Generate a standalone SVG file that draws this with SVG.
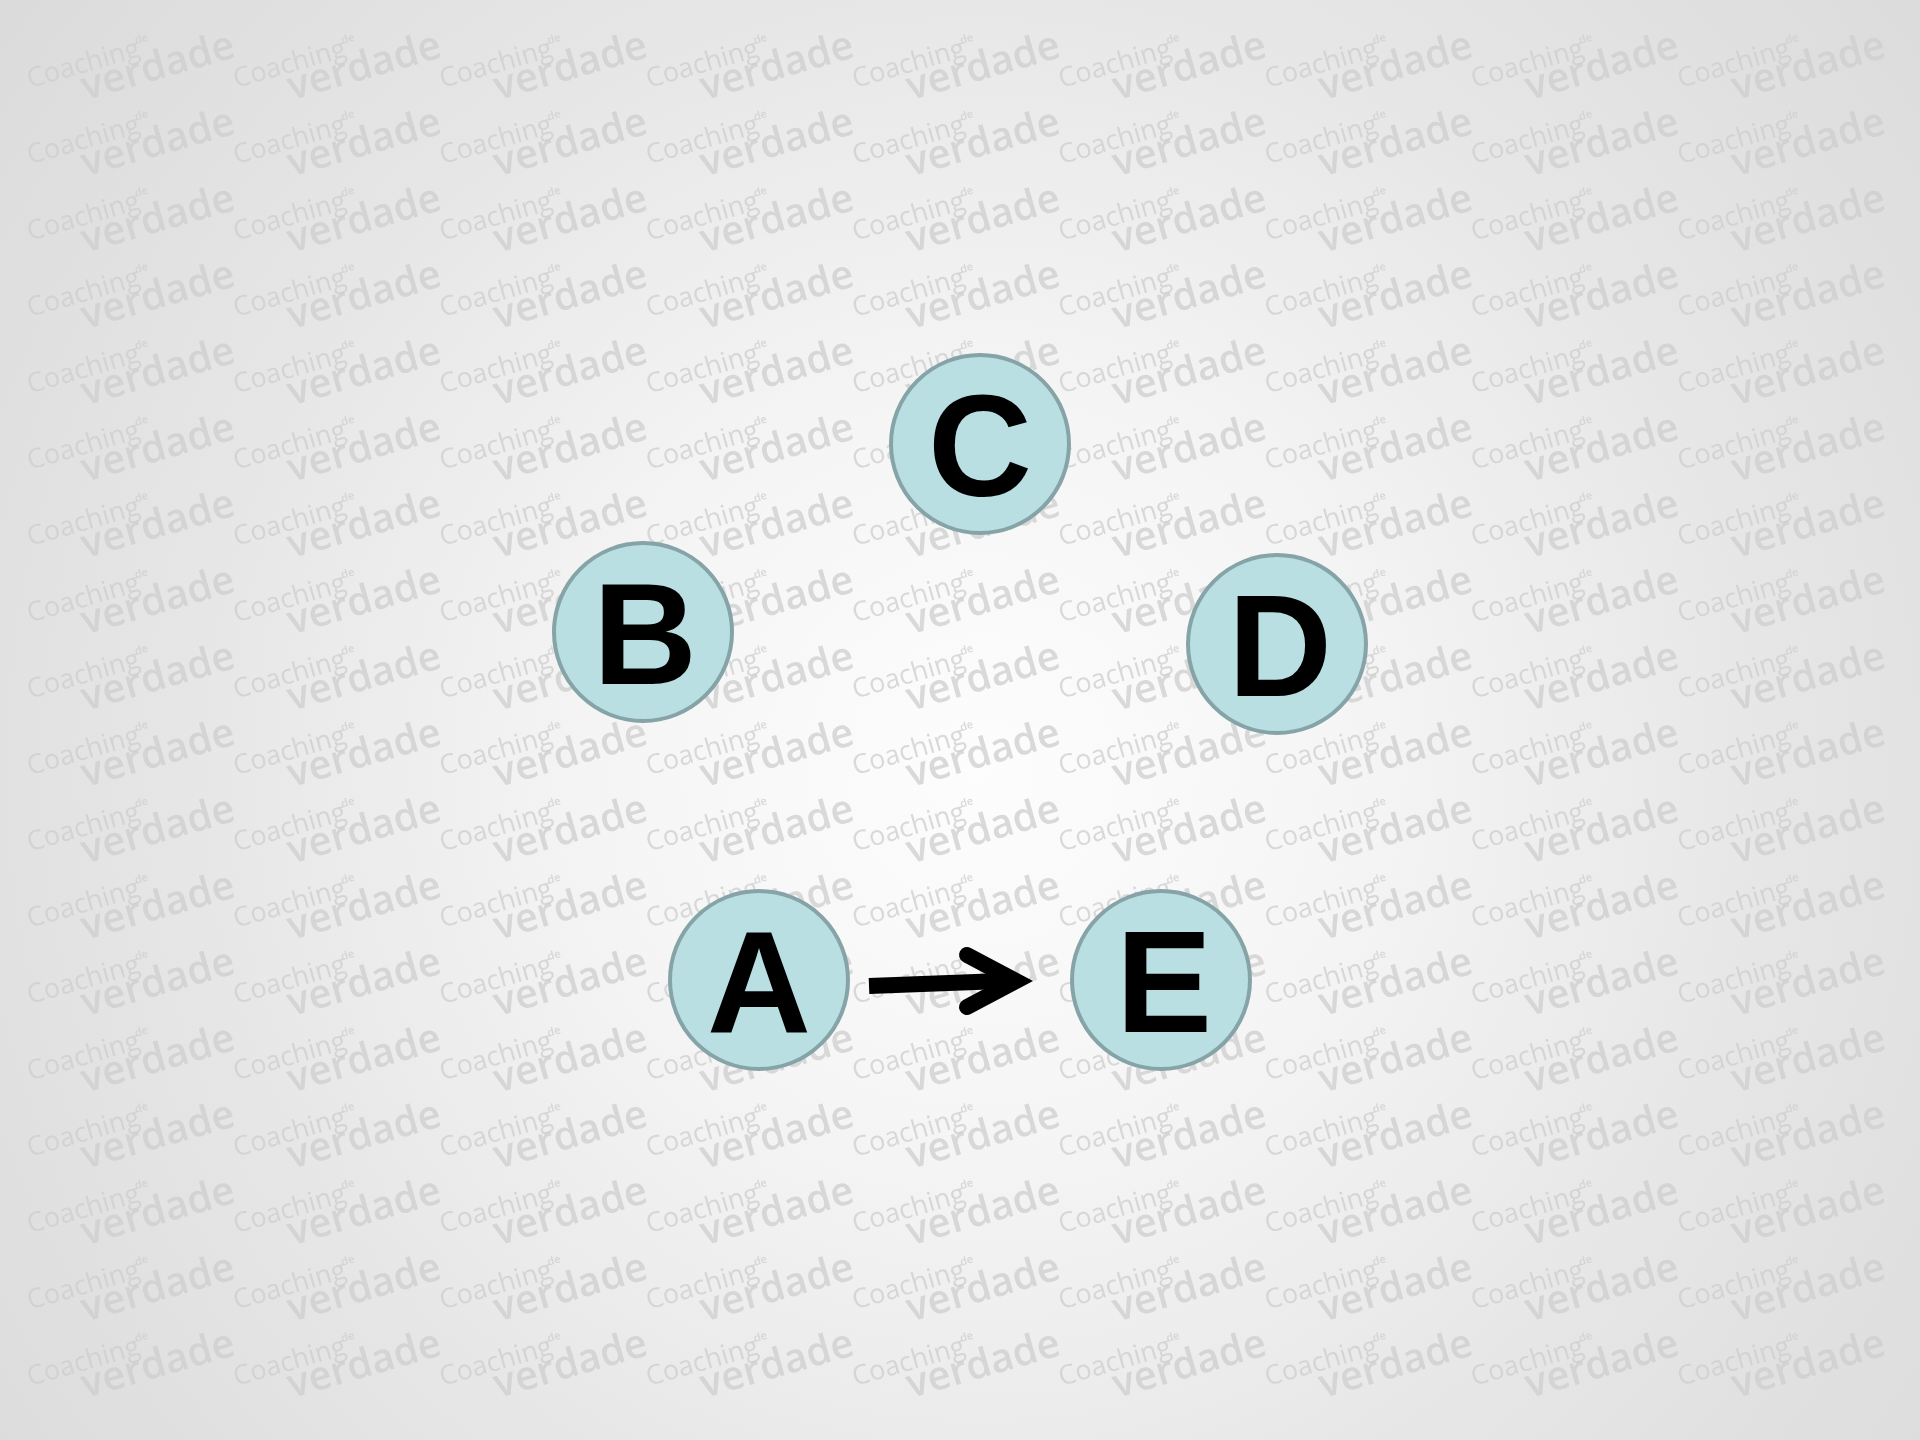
<svg xmlns="http://www.w3.org/2000/svg" xmlns:xlink="http://www.w3.org/1999/xlink" width="1920" height="1440" viewBox="0 0 1920 1440">
  <style>
    .wm1 { font-family: "Open Sans", "DejaVu Sans", sans-serif; font-size: 27px; font-weight: 400; }
    .wm2 { font-family: "Open Sans", "DejaVu Sans", sans-serif; font-size: 11px; font-weight: 600; }
    .wm3 { font-family: "Open Sans", "DejaVu Sans", sans-serif; font-size: 40px; font-weight: 600; }
    .wmg { fill: #cdcdcd; fill-opacity: 0.75; }
    .node circle { fill: #b9dfe3; stroke: #86a4a7; stroke-width: 4; }
    .node text { font-family: "Liberation Sans", Arial, sans-serif; font-weight: 700; font-size: 144px; fill: #000; text-anchor: middle; }
    .conn { fill: none; stroke: #000; stroke-width: 16; }
  </style>
  <defs>
    <radialGradient id="bg" gradientUnits="userSpaceOnUse" cx="980" cy="770" r="1230">
      <stop offset="0" stop-color="#fdfdfd"/>
      <stop offset="0.3" stop-color="#f5f5f5"/>
      <stop offset="0.65" stop-color="#e6e6e6"/>
      <stop offset="1" stop-color="#dbdbdb"/>
    </radialGradient>
    <filter id="soft" x="-2%" y="-2%" width="104%" height="104%">
      <feGaussianBlur stdDeviation="0.6"/>
    </filter>
    <g id="wm" transform="rotate(-16)">
      <text class="wm1" x="0" y="0">Coaching</text>
      <text class="wm2" x="114" y="-13">de</text>
      <text class="wm3" x="50" y="27">verdade</text>
    </g>
    <g id="wmrow">
      <use xlink:href="#wm" x="30" y="0"/>
      <use xlink:href="#wm" x="236.3" y="0"/>
      <use xlink:href="#wm" x="442.6" y="0"/>
      <use xlink:href="#wm" x="648.9" y="0"/>
      <use xlink:href="#wm" x="855.2" y="0"/>
      <use xlink:href="#wm" x="1061.5" y="0"/>
      <use xlink:href="#wm" x="1267.8" y="0"/>
      <use xlink:href="#wm" x="1474.1" y="0"/>
      <use xlink:href="#wm" x="1680.4" y="0"/>
    </g>
  </defs>

  <rect width="1920" height="1440" fill="url(#bg)"/>

  <g id="watermark" class="wmg" filter="url(#soft)">
    <use xlink:href="#wmrow" y="88"/>
    <use xlink:href="#wmrow" y="164.35"/>
    <use xlink:href="#wmrow" y="240.7"/>
    <use xlink:href="#wmrow" y="317.05"/>
    <use xlink:href="#wmrow" y="393.4"/>
    <use xlink:href="#wmrow" y="469.75"/>
    <use xlink:href="#wmrow" y="546.1"/>
    <use xlink:href="#wmrow" y="622.45"/>
    <use xlink:href="#wmrow" y="698.8"/>
    <use xlink:href="#wmrow" y="775.15"/>
    <use xlink:href="#wmrow" y="851.5"/>
    <use xlink:href="#wmrow" y="927.85"/>
    <use xlink:href="#wmrow" y="1004.2"/>
    <use xlink:href="#wmrow" y="1080.55"/>
    <use xlink:href="#wmrow" y="1156.9"/>
    <use xlink:href="#wmrow" y="1233.25"/>
    <use xlink:href="#wmrow" y="1309.6"/>
    <use xlink:href="#wmrow" y="1385.95"/>
  </g>

  <g id="connectors">
    <g id="A-E">
      <path class="conn" d="M869,986 L1002,981"/>
      <path class="conn" d="M967,955 L1016,981 L967,1007" stroke-linecap="round" stroke-linejoin="miter"/>
    </g>
  </g>

  <g id="node-C" class="node">
    <circle cx="980" cy="444" r="89"/>
    <text x="980" y="496">C</text>
  </g>
  <g id="node-B" class="node">
    <circle cx="643" cy="632" r="89"/>
    <text x="645" y="684">B</text>
  </g>
  <g id="node-D" class="node">
    <circle cx="1277" cy="644" r="89"/>
    <text x="1280" y="696">D</text>
  </g>
  <g id="node-A" class="node">
    <circle cx="759" cy="980" r="89"/>
    <text x="759" y="1032">A</text>
  </g>
  <g id="node-E" class="node">
    <circle cx="1161" cy="980" r="89"/>
    <text x="1164" y="1032">E</text>
  </g>
</svg>
